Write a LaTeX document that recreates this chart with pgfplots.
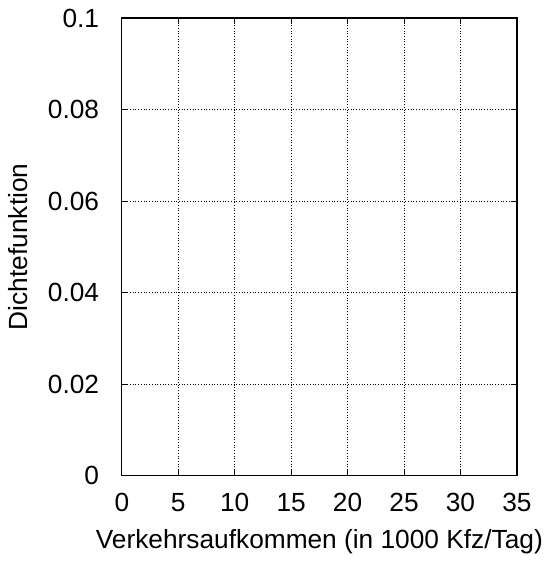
\documentclass[border=0pt]{standalone}
\usepackage{fontspec}
\setmainfont{Liberation Sans}
\usepackage{pgfplots}
\pgfplotsset{compat=1.18}
\begin{document}
\fontsize{13.5}{16}\selectfont
\begin{tikzpicture}
\begin{axis}[
  scale only axis,
  width=203pt,
  height=235pt,
  xmin=0, xmax=35,
  ymin=0, ymax=0.1,
  xtick={0,5,...,35},
  ytick={0,0.02,0.04,0.06,0.08,0.1},
  yticklabels={0,0.02,0.04,0.06,0.08,0.1},
  tick align=inside,
  major tick length=3pt,
  tick style={black, thin},
  axis line style={black, semithick},
  grid=major,
  grid style={black, densely dotted, thin},
  xlabel={Verkehrsaufkommen (in 1000 Kfz/Tag)},
  ylabel={Dichtefunktion},
  /pgf/number format/assume math mode=true,
  ticklabel style={font=\fontsize{13.5}{16}\selectfont},
  label style={font=\fontsize{13.5}{16}\selectfont},
  xticklabel style={yshift=-4pt, text height=10pt, text depth=0pt},
  yticklabel style={xshift=-7pt},
  xlabel style={yshift=0pt},
  ylabel style={yshift=1pt},
]
\addplot[draw=none, forget plot] coordinates {(0,0) (35,0.1)};
\end{axis}
\end{tikzpicture}
\end{document}
